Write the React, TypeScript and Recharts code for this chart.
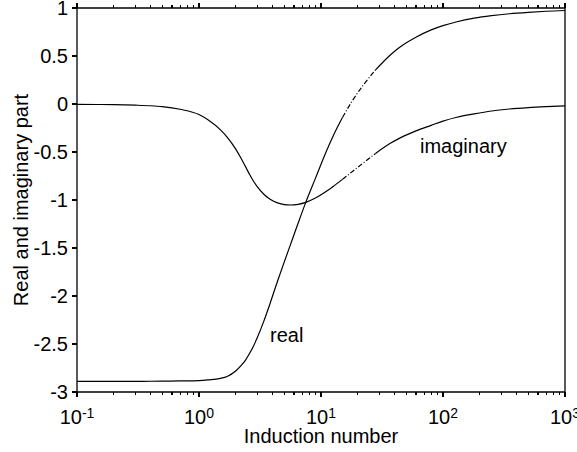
import React from "react";
import { LineChart, Line, XAxis, YAxis } from "recharts";

// induction number (log axis) and the two parts
const inductionNumbers = [
  0.1, 0.15, 0.2, 0.3, 0.4, 0.5, 0.7, 1, 1.2, 1.5, 1.7, 2, 2.2, 2.4, 2.6, 2.8,
  3, 3.4, 3.8, 4.4, 5, 5.6, 6.5, 7.5, 9, 11, 13, 15, 18, 22, 28, 37, 45, 60, 80,
  100, 130, 180, 250, 350, 500, 700, 1000,
];
const realPart = [
  -2.89, -2.89, -2.89, -2.889, -2.888, -2.887, -2.885, -2.882, -2.874, -2.858,
  -2.838, -2.782, -2.728, -2.67, -2.597, -2.52, -2.436, -2.262, -2.088, -1.846,
  -1.645, -1.47, -1.24, -1.025, -0.775, -0.5, -0.295, -0.14, 0.03, 0.19, 0.355,
  0.51, 0.598, 0.695, 0.772, 0.816, 0.857, 0.894, 0.92, 0.94, 0.955, 0.966,
  0.974,
];
const imaginaryPart = [
  -0.003, -0.005, -0.007, -0.012, -0.018, -0.027, -0.055, -0.11, -0.17, -0.27,
  -0.345, -0.47, -0.56, -0.65, -0.735, -0.805, -0.86, -0.94, -0.99, -1.03,
  -1.048, -1.052, -1.045, -1.025, -0.98, -0.912, -0.845, -0.785, -0.705, -0.618,
  -0.515, -0.41, -0.35, -0.28, -0.222, -0.178, -0.138, -0.103, -0.073, -0.052,
  -0.037, -0.027, -0.019,
];
// stretch drawn dash-dot in the original
const dashStart = 15;
const dashEnd = 28;

const xMajor = [0.1, 1, 10, 100, 1000];
const xTicks = [
  0.1, 0.2, 0.3, 0.4, 0.5, 0.6, 0.7, 0.8, 0.9, 1, 2, 3, 4, 5, 6, 7, 8, 9, 10,
  20, 30, 40, 50, 60, 70, 80, 90, 100, 200, 300, 400, 500, 600, 700, 800, 900,
  1000,
];
const yTicks = [-3, -2.5, -2, -1.5, -1, -0.5, 0, 0.5, 1];

const font = "'Liberation Sans', Arial, sans-serif";
const fs = 20;

const data = inductionNumbers.map((x, i) => {
  const r = realPart[i];
  const m = imaginaryPart[i];
  return {
    x,
    realA: x <= dashStart ? r : null,
    realB: x >= dashStart && x <= dashEnd ? r : null,
    realC: x >= dashEnd ? r : null,
    imagA: x <= dashStart ? m : null,
    imagB: x >= dashStart && x <= dashEnd ? m : null,
    imagC: x >= dashEnd ? m : null,
  };
});

const isMajor = (v: number) => xMajor.includes(v);

function BottomTick(props: any) {
  const { x, y, payload } = props;
  const v = payload.value;
  const major = isMajor(v);
  return (
    <g>
      <line x1={x} x2={x} y1={y} y2={y + (major ? 5 : 3)} stroke="#000" strokeWidth={1.2} shapeRendering="crispEdges" />
      {major && (
        <text x={x} y={y + 32} textAnchor="middle" fontSize={fs} fontFamily={font} fill="#000">
          10
          <tspan dy={-6} fontSize={14}>
            {Math.round(Math.log10(v))}
          </tspan>
        </text>
      )}
    </g>
  );
}

function TopTick(props: any) {
  const { x, y, payload } = props;
  const major = isMajor(payload.value);
  return (
    <line x1={x} x2={x} y1={y} y2={y - (major ? 5 : 3)} stroke="#000" strokeWidth={1.2} shapeRendering="crispEdges" />
  );
}

function LeftTick(props: any) {
  const { x, y, payload } = props;
  return (
    <g>
      <line x1={x - 5} x2={x} y1={y} y2={y} stroke="#000" strokeWidth={1.2} shapeRendering="crispEdges" />
      <text x={x - 9} y={y} dy="0.35em" textAnchor="end" fontSize={fs} fontFamily={font} fill="#000">
        {String(payload.value)}
      </text>
    </g>
  );
}

function RightTick(props: any) {
  const { x, y } = props;
  return <line x1={x} x2={x + 5} y1={y} y2={y} stroke="#000" strokeWidth={1.2} shapeRendering="crispEdges" />;
}

export default function App() {
  const axisLine = { stroke: "#000", strokeWidth: 1.3 };
  const lineProps = {
    xAxisId: "bottom",
    yAxisId: "left",
    type: "monotone" as const,
    stroke: "#000",
    strokeWidth: 1.2,
    dot: false,
    activeDot: false,
    isAnimationActive: false,
  };
  const dashDot = "5 2 1 2";

  return (
    <div style={{ position: "absolute", left: 0, top: 0, width: 577, height: 452, background: "#fff" }}>
      <LineChart width={577} height={452} data={data} margin={{ top: 0, right: 0, bottom: 0, left: 0 }}>
        <XAxis
          xAxisId="bottom"
          dataKey="x"
          type="number"
          scale="log"
          domain={[0.1, 1000]}
          allowDataOverflow
          ticks={xTicks}
          interval={0}
          tickSize={0}
          tickMargin={0}
          tick={<BottomTick />}
          axisLine={axisLine}
          height={60}
          label={{
            content: () => (
              <text x={321} y={443} textAnchor="middle" fontSize={fs} fontFamily={font} fill="#000">
                Induction number
              </text>
            ),
          }}
        />
        <XAxis
          xAxisId="top"
          orientation="top"
          dataKey="x"
          type="number"
          scale="log"
          domain={[0.1, 1000]}
          allowDataOverflow
          ticks={xTicks}
          interval={0}
          tickSize={0}
          tickMargin={0}
          tick={<TopTick />}
          axisLine={axisLine}
          height={8}
        />
        <YAxis
          yAxisId="left"
          type="number"
          domain={[-3, 1]}
          ticks={yTicks}
          interval={0}
          tickSize={0}
          tickMargin={0}
          tick={<LeftTick />}
          axisLine={axisLine}
          width={77}
          label={{
            content: () => (
              <text
                x={28}
                y={200}
                transform="rotate(-90, 28, 200)"
                textAnchor="middle"
                fontSize={fs}
                fontFamily={font}
                fill="#000"
              >
                Real and imaginary part
              </text>
            ),
          }}
        />
        <YAxis
          yAxisId="right"
          orientation="right"
          type="number"
          domain={[-3, 1]}
          ticks={yTicks}
          interval={0}
          tickSize={0}
          tickMargin={0}
          tick={<RightTick />}
          axisLine={axisLine}
          width={12}
        />
        <Line {...lineProps} dataKey="realA" />
        <Line {...lineProps} dataKey="realB" strokeDasharray={dashDot} />
        <Line {...lineProps} dataKey="realC" />
        <Line {...lineProps} dataKey="imagA" />
        <Line {...lineProps} dataKey="imagB" strokeDasharray={dashDot} />
        <Line {...lineProps} dataKey="imagC" />
        <text x={270} y={342} fontSize={fs} fontFamily={font} fill="#000">
          real
        </text>
        <text x={420} y={153} fontSize={fs} fontFamily={font} fill="#000">
          imaginary
        </text>
      </LineChart>
    </div>
  );
}
